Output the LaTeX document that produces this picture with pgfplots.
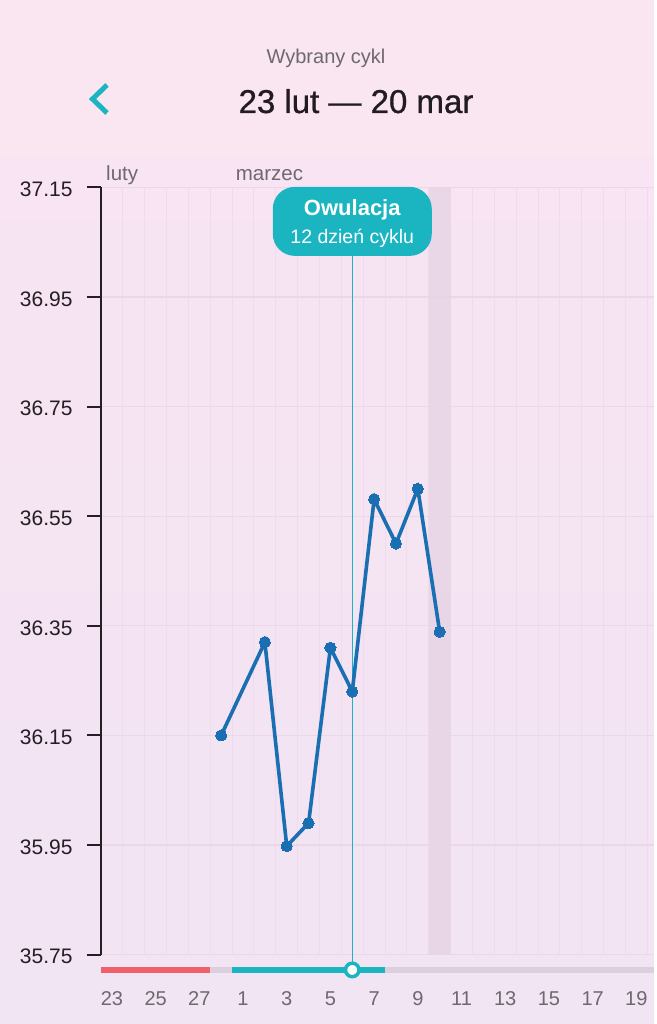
\documentclass[border=0pt]{standalone}
\usepackage{fontspec}
\setmainfont{Liberation Sans}
\newfontfamily\titlefont[FakeBold=0.8]{Liberation Sans}
\usepackage{pgfplots}
\pgfplotsset{compat=1.18}
\definecolor{hdrbg}{HTML}{F9E6F1}
\definecolor{chartTop}{HTML}{F8E4F2}
\definecolor{chartBot}{HTML}{F1E4F3}
\definecolor{subgray}{HTML}{6E686F}
\definecolor{titlecol}{HTML}{221C22}
\definecolor{axiscol}{HTML}{231F23}
\definecolor{tealc}{HTML}{1AB5C1}
\definecolor{redbar}{HTML}{EF6068}
\definecolor{graybar}{HTML}{DDD0DE}
\definecolor{blueline}{HTML}{1A6FB2}
\definecolor{gridH}{HTML}{EBD8E6}
\definecolor{gridV}{HTML}{EEDBEB}
\definecolor{bandcol}{HTML}{E6D3E4}
\begin{document}
\begin{tikzpicture}[x=1pt,y=1pt]
\fill[hdrbg] (0,0) rectangle (654,1024);
\shade[top color=chartTop, bottom color=chartBot] (0,0) rectangle (654,866);
% header
\node[anchor=base, font=\fontsize{20}{24}\selectfont, text=subgray, inner sep=0pt] at (326,960.7) {Wybrany cykl};
\node[anchor=base, font=\titlefont\fontsize{33}{40}\selectfont, text=titlecol, inner sep=0pt] at (356,911) {23 lut — 20 mar};
\draw[tealc, line width=5pt] (107,939) -- (92.5,925) -- (107,911);
\begin{axis}[
  at={(101pt,69.4pt)}, anchor=south west,
  scale only axis, width=553pt, height=767.2pt,
  xmin=-0.5, xmax=24.809, ymin=35.75, ymax=37.15,
  axis y line*=left, axis x line*=bottom,
  x axis line style={draw=none},
  y axis line style={line width=2pt, color=axiscol},
  xtick={0,2,...,24},
  xticklabels={23,25,27,1,3,5,7,9,11,13,15,17,19},
  ytick={35.75,35.95,36.15,36.35,36.55,36.75,36.95,37.15},
  yticklabels={35.75,35.95,36.15,36.35,36.55,36.75,36.95,37.15},
  tick align=outside, major tick length=14pt,
  xtick style={draw=none},
  ytick style={line width=2pt, color=axiscol},
  minor xtick={-0.5,0.5,...,24.5},
  minor tick length=0pt,
  xminorgrids, ymajorgrids,
  minor x grid style={color=gridV, line width=1pt},
  y grid style={color=gridH, line width=1.2pt},
  yticklabel style={font=\fontsize{21}{24}\selectfont, text=axiscol, anchor=east, xshift=-11pt, yshift=-2pt},
  xticklabel style={font=\fontsize{20}{24}\selectfont, text=subgray, anchor=base, yshift=-37pt},
  clip=false,
]
% today band
\addplot[draw=none, fill=bandcol, fill opacity=0.8] coordinates {(14.5,35.75) (14.5,37.15) (15.5,37.15) (15.5,35.75) (14.5,35.75)};
% cycle phase bar
\addplot[redbar, line width=6pt] coordinates {(-0.5,35.722) (4.5,35.722)};
\addplot[graybar, line width=6pt] coordinates {(4.5,35.722) (5.5,35.722)};
\addplot[tealc, line width=6pt] coordinates {(5.5,35.722) (12.5,35.722)};
\addplot[graybar, line width=6pt] coordinates {(12.5,35.722) (24.809,35.722)};
% ovulation line
\addplot[tealc, line width=1.5pt] coordinates {(11,35.735) (11,37.05)};
% temperatures
\addplot[blueline, line width=3.6pt, mark=*, mark size=5.6pt, mark options={fill=blueline, draw=blueline, line width=0pt}] coordinates {
(5,36.150) (7,36.320) (8,35.948) (9,35.990) (10,36.310) (11,36.230) (12,36.581) (13,36.500) (14,36.600) (15,36.339)};
% ovulation marker
\addplot[only marks, mark=*, mark size=6.75pt, mark options={fill=white, draw=tealc, line width=3.5pt}] coordinates {(11,35.722)};
% ovulation label
\node[fill=tealc, rounded corners=22pt, minimum width=159pt, minimum height=69pt, inner sep=0pt] at (axis cs:11,37.088) {};
\node[anchor=base, text=white, inner sep=0pt, font=\fontsize{22}{26}\selectfont\bfseries] at (axis cs:11,37.0978) {Owulacja};
\node[anchor=base, text=white, inner sep=0pt, font=\fontsize{19.5}{24}\selectfont] at (axis cs:11,37.048) {12 dzień cyklu};
% month labels
\node[anchor=base west, inner sep=0pt, xshift=5pt, yshift=6.4pt, text=subgray, font=\fontsize{20.5}{24}\selectfont] at (axis cs:-0.5,37.15) {luty};
\node[anchor=base west, inner sep=0pt, xshift=3.5pt, yshift=6.4pt, text=subgray, font=\fontsize{20.5}{24}\selectfont] at (axis cs:5.5,37.15) {marzec};
\end{axis}
\end{tikzpicture}
\end{document}
